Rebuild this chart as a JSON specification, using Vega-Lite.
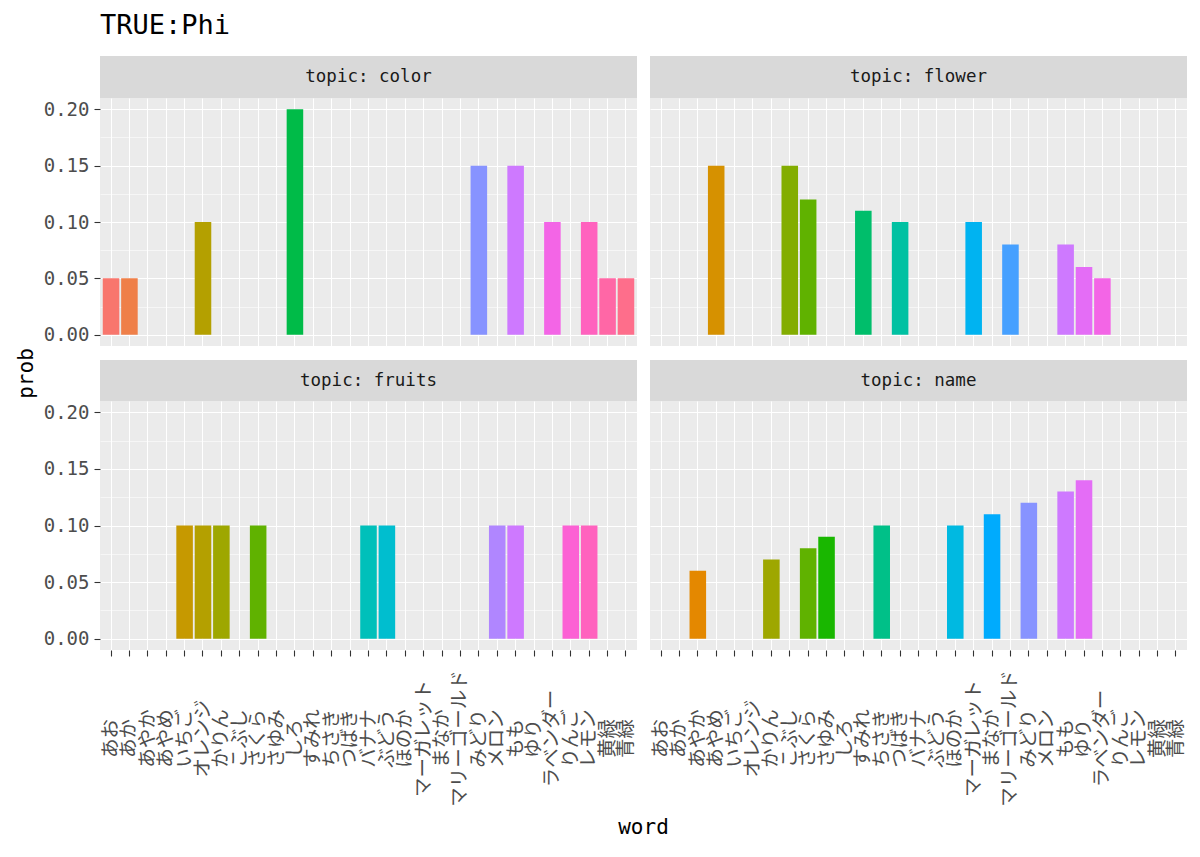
{
  "$schema": "https://vega.github.io/schema/vega-lite/v6.json",
  "background": "white",
  "padding": {"left": 15, "top": 12, "right": 13, "bottom": 10},
  "title": {"text": "TRUE:Phi", "anchor": "start", "frame": "group", "fontSize": 27, "font": "DejaVu Sans Mono", "fontWeight": "normal", "color": "#000000", "offset": 16},
  "datasets": {
    "phi": [
      {"topic": "color", "word": "あお", "prob": 0.05},
      {"topic": "color", "word": "あか", "prob": 0.05},
      {"topic": "color", "word": "オレンジ", "prob": 0.10},
      {"topic": "color", "word": "しろ", "prob": 0.20},
      {"topic": "color", "word": "みどり", "prob": 0.15},
      {"topic": "color", "word": "もも", "prob": 0.15},
      {"topic": "color", "word": "ラベンダー", "prob": 0.10},
      {"topic": "color", "word": "レモン", "prob": 0.10},
      {"topic": "color", "word": "黄緑", "prob": 0.05},
      {"topic": "color", "word": "青緑", "prob": 0.05},
      {"topic": "flower", "word": "あやめ", "prob": 0.15},
      {"topic": "flower", "word": "こぶし", "prob": 0.15},
      {"topic": "flower", "word": "さくら", "prob": 0.12},
      {"topic": "flower", "word": "すみれ", "prob": 0.11},
      {"topic": "flower", "word": "つばき", "prob": 0.10},
      {"topic": "flower", "word": "マーガレット", "prob": 0.10},
      {"topic": "flower", "word": "マリーゴールド", "prob": 0.08},
      {"topic": "flower", "word": "もも", "prob": 0.08},
      {"topic": "flower", "word": "ゆり", "prob": 0.06},
      {"topic": "flower", "word": "ラベンダー", "prob": 0.05},
      {"topic": "fruits", "word": "いちご", "prob": 0.10},
      {"topic": "fruits", "word": "オレンジ", "prob": 0.10},
      {"topic": "fruits", "word": "かりん", "prob": 0.10},
      {"topic": "fruits", "word": "さくら", "prob": 0.10},
      {"topic": "fruits", "word": "バナナ", "prob": 0.10},
      {"topic": "fruits", "word": "ぶどう", "prob": 0.10},
      {"topic": "fruits", "word": "メロン", "prob": 0.10},
      {"topic": "fruits", "word": "もも", "prob": 0.10},
      {"topic": "fruits", "word": "りんご", "prob": 0.10},
      {"topic": "fruits", "word": "レモン", "prob": 0.10},
      {"topic": "name", "word": "あやか", "prob": 0.06},
      {"topic": "name", "word": "かりん", "prob": 0.07},
      {"topic": "name", "word": "さくら", "prob": 0.08},
      {"topic": "name", "word": "さゆみ", "prob": 0.09},
      {"topic": "name", "word": "ちさき", "prob": 0.10},
      {"topic": "name", "word": "ほのか", "prob": 0.10},
      {"topic": "name", "word": "まなか", "prob": 0.11},
      {"topic": "name", "word": "みどり", "prob": 0.12},
      {"topic": "name", "word": "もも", "prob": 0.13},
      {"topic": "name", "word": "ゆり", "prob": 0.14}
    ]
  },
  "config": {
    "view": {"fill": "#EBEBEB", "stroke": null},
    "axis": {
      "domain": false,
      "gridColor": "#FFFFFF",
      "tickColor": "#333333",
      "tickSize": 6,
      "tickWidth": 1.1,
      "labelColor": "#4D4D4D",
      "labelFont": "DejaVu Sans Mono",
      "labelFontSize": 19,
      "titleFont": "DejaVu Sans Mono",
      "titleFontSize": 21,
      "titleFontWeight": "normal",
      "titleColor": "#000000"
    }
  },
  "bounds": "flush",
  "columns": 2,
  "spacing": {"row": 0, "column": 13},
  "concat": [
    {"width": 537, "height": 42, "data": {"values": [{"label": "topic: color"}]}, "mark": {"type": "text", "font": "DejaVu Sans Mono", "fontSize": 17.5, "color": "#1A1A1A"}, "encoding": {"text": {"field": "label"}}, "view": {"fill": "#D9D9D9", "stroke": null}},
    {"width": 537, "height": 42, "data": {"values": [{"label": "topic: flower"}]}, "mark": {"type": "text", "font": "DejaVu Sans Mono", "fontSize": 17.5, "color": "#1A1A1A"}, "encoding": {"text": {"field": "label"}}, "view": {"fill": "#D9D9D9", "stroke": null}},
    {
      "width": 537, "height": 248,
      "data": {"name": "phi"},
      "transform": [{"filter": "datum.topic === 'color'"}],
      "mark": {"type": "bar"},
      "encoding": {
        "x": {"field": "word", "type": "nominal",
          "sort": ["あお","あか","あやか","あやめ","いちご","オレンジ","かりん","こぶし","さくら","さゆみ","しろ","すみれ","ちさき","つばき","バナナ","ぶどう","ほのか","マーガレット","まなか","マリーゴールド","みどり","メロン","もも","ゆり","ラベンダー","りんご","レモン","黄緑","青緑"],
          "scale": {"domain": ["あお","あか","あやか","あやめ","いちご","オレンジ","かりん","こぶし","さくら","さゆみ","しろ","すみれ","ちさき","つばき","バナナ","ぶどう","ほのか","マーガレット","まなか","マリーゴールド","みどり","メロン","もも","ゆり","ラベンダー","りんご","レモン","黄緑","青緑"], "paddingInner": 0.1, "paddingOuter": 0.15},
          "axis": {"labels": false, "ticks": false, "title": null, "grid": true, "gridWidth": 1.1, "bandPosition": 0.5}},
        "y": {"field": "prob", "type": "quantitative", "scale": {"domain": [-0.01, 0.21], "nice": false, "zero": false},
          "axis": {"title": "prob", "titleY": 275, "titlePadding": 7, "labelPadding": 5,
            "values": [0, 0.025, 0.05, 0.075, 0.1, 0.125, 0.15, 0.175, 0.2],
            "labelExpr": "round(datum.value*1000)%50==0 ? format(datum.value,'.2f') : ''",
            "tickOpacity": {"condition": {"test": "round(datum.value*1000)%50!=0", "value": 0}, "value": 1},
            "gridWidth": {"condition": {"test": "round(datum.value*1000)%50!=0", "value": 0.55}, "value": 1.1}}},
        "y2": {"datum": 0},
        "color": {"field": "word", "type": "nominal",
          "scale": {"domain": ["あお","あか","あやか","あやめ","いちご","オレンジ","かりん","こぶし","さくら","さゆみ","しろ","すみれ","ちさき","つばき","バナナ","ぶどう","ほのか","マーガレット","まなか","マリーゴールド","みどり","メロン","もも","ゆり","ラベンダー","りんご","レモン","黄緑","青緑"],
            "range": ["#F8766D","#EF7F48","#E48800","#D69100","#C69900","#B4A000","#9EA700","#83AD00","#60B200","#19B700","#00BB48","#00BE6B","#00C088","#00C1A2","#00C0BA","#00BECF","#00B9E1","#00B3F1","#00ABFD","#46A0FF","#8793FF","#B086FF","#CE79FF","#E46DF6","#F365E6","#FC61D4","#FF62BE","#FF67A6","#FE6E8B"]},
          "legend": null}
      }
    },
    {
      "width": 537, "height": 248,
      "data": {"name": "phi"},
      "transform": [{"filter": "datum.topic === 'flower'"}],
      "mark": {"type": "bar"},
      "encoding": {
        "x": {"field": "word", "type": "nominal",
          "sort": ["あお","あか","あやか","あやめ","いちご","オレンジ","かりん","こぶし","さくら","さゆみ","しろ","すみれ","ちさき","つばき","バナナ","ぶどう","ほのか","マーガレット","まなか","マリーゴールド","みどり","メロン","もも","ゆり","ラベンダー","りんご","レモン","黄緑","青緑"],
          "scale": {"domain": ["あお","あか","あやか","あやめ","いちご","オレンジ","かりん","こぶし","さくら","さゆみ","しろ","すみれ","ちさき","つばき","バナナ","ぶどう","ほのか","マーガレット","まなか","マリーゴールド","みどり","メロン","もも","ゆり","ラベンダー","りんご","レモン","黄緑","青緑"], "paddingInner": 0.1, "paddingOuter": 0.15},
          "axis": {"labels": false, "ticks": false, "title": null, "grid": true, "gridWidth": 1.1, "bandPosition": 0.5}},
        "y": {"field": "prob", "type": "quantitative", "scale": {"domain": [-0.01, 0.21], "nice": false, "zero": false},
          "axis": {"title": null, "labels": false, "ticks": false,
            "values": [0, 0.025, 0.05, 0.075, 0.1, 0.125, 0.15, 0.175, 0.2],
            "gridWidth": {"condition": {"test": "round(datum.value*1000)%50!=0", "value": 0.55}, "value": 1.1}}},
        "y2": {"datum": 0},
        "color": {"field": "word", "type": "nominal",
          "scale": {"domain": ["あお","あか","あやか","あやめ","いちご","オレンジ","かりん","こぶし","さくら","さゆみ","しろ","すみれ","ちさき","つばき","バナナ","ぶどう","ほのか","マーガレット","まなか","マリーゴールド","みどり","メロン","もも","ゆり","ラベンダー","りんご","レモン","黄緑","青緑"],
            "range": ["#F8766D","#EF7F48","#E48800","#D69100","#C69900","#B4A000","#9EA700","#83AD00","#60B200","#19B700","#00BB48","#00BE6B","#00C088","#00C1A2","#00C0BA","#00BECF","#00B9E1","#00B3F1","#00ABFD","#46A0FF","#8793FF","#B086FF","#CE79FF","#E46DF6","#F365E6","#FC61D4","#FF62BE","#FF67A6","#FE6E8B"]},
          "legend": null}
      }
    },
    {"width": 537, "height": 14, "data": {"values": [{"label": ""}]}, "mark": {"type": "text"}, "encoding": {"text": {"field": "label"}}, "view": {"fill": null, "stroke": null}},
    {"width": 537, "height": 14, "data": {"values": [{"label": ""}]}, "mark": {"type": "text"}, "encoding": {"text": {"field": "label"}}, "view": {"fill": null, "stroke": null}},
    {"width": 537, "height": 41, "data": {"values": [{"label": "topic: fruits"}]}, "mark": {"type": "text", "font": "DejaVu Sans Mono", "fontSize": 17.5, "color": "#1A1A1A"}, "encoding": {"text": {"field": "label"}}, "view": {"fill": "#D9D9D9", "stroke": null}},
    {"width": 537, "height": 41, "data": {"values": [{"label": "topic: name"}]}, "mark": {"type": "text", "font": "DejaVu Sans Mono", "fontSize": 17.5, "color": "#1A1A1A"}, "encoding": {"text": {"field": "label"}}, "view": {"fill": "#D9D9D9", "stroke": null}},
    {
      "width": 537, "height": 249,
      "data": {"name": "phi"},
      "transform": [{"filter": "datum.topic === 'fruits'"}],
      "mark": {"type": "bar"},
      "encoding": {
        "x": {"field": "word", "type": "nominal",
          "sort": ["あお","あか","あやか","あやめ","いちご","オレンジ","かりん","こぶし","さくら","さゆみ","しろ","すみれ","ちさき","つばき","バナナ","ぶどう","ほのか","マーガレット","まなか","マリーゴールド","みどり","メロン","もも","ゆり","ラベンダー","りんご","レモン","黄緑","青緑"],
          "scale": {"domain": ["あお","あか","あやか","あやめ","いちご","オレンジ","かりん","こぶし","さくら","さゆみ","しろ","すみれ","ちさき","つばき","バナナ","ぶどう","ほのか","マーガレット","まなか","マリーゴールド","みどり","メロン","もも","ゆり","ラベンダー","りんご","レモン","黄緑","青緑"], "paddingInner": 0.1, "paddingOuter": 0.15},
          "axis": {"title": "word", "titleX": 543, "titlePadding": 10, "grid": true, "gridWidth": 1.1, "bandPosition": 0.5,
            "labelAngle": 270, "labelAlign": "center", "labelBaseline": "middle", "labelPadding": 82,
            "labelFont": "Noto Sans CJK JP", "labelFontSize": 19.5, "labelOverlap": false, "labelFlush": false}},
        "y": {"field": "prob", "type": "quantitative", "scale": {"domain": [-0.01, 0.21], "nice": false, "zero": false},
          "axis": {"title": null, "labelPadding": 5,
            "values": [0, 0.025, 0.05, 0.075, 0.1, 0.125, 0.15, 0.175, 0.2],
            "labelExpr": "round(datum.value*1000)%50==0 ? format(datum.value,'.2f') : ''",
            "tickOpacity": {"condition": {"test": "round(datum.value*1000)%50!=0", "value": 0}, "value": 1},
            "gridWidth": {"condition": {"test": "round(datum.value*1000)%50!=0", "value": 0.55}, "value": 1.1}}},
        "y2": {"datum": 0},
        "color": {"field": "word", "type": "nominal",
          "scale": {"domain": ["あお","あか","あやか","あやめ","いちご","オレンジ","かりん","こぶし","さくら","さゆみ","しろ","すみれ","ちさき","つばき","バナナ","ぶどう","ほのか","マーガレット","まなか","マリーゴールド","みどり","メロン","もも","ゆり","ラベンダー","りんご","レモン","黄緑","青緑"],
            "range": ["#F8766D","#EF7F48","#E48800","#D69100","#C69900","#B4A000","#9EA700","#83AD00","#60B200","#19B700","#00BB48","#00BE6B","#00C088","#00C1A2","#00C0BA","#00BECF","#00B9E1","#00B3F1","#00ABFD","#46A0FF","#8793FF","#B086FF","#CE79FF","#E46DF6","#F365E6","#FC61D4","#FF62BE","#FF67A6","#FE6E8B"]},
          "legend": null}
      }
    },
    {
      "width": 537, "height": 249,
      "data": {"name": "phi"},
      "transform": [{"filter": "datum.topic === 'name'"}],
      "mark": {"type": "bar"},
      "encoding": {
        "x": {"field": "word", "type": "nominal",
          "sort": ["あお","あか","あやか","あやめ","いちご","オレンジ","かりん","こぶし","さくら","さゆみ","しろ","すみれ","ちさき","つばき","バナナ","ぶどう","ほのか","マーガレット","まなか","マリーゴールド","みどり","メロン","もも","ゆり","ラベンダー","りんご","レモン","黄緑","青緑"],
          "scale": {"domain": ["あお","あか","あやか","あやめ","いちご","オレンジ","かりん","こぶし","さくら","さゆみ","しろ","すみれ","ちさき","つばき","バナナ","ぶどう","ほのか","マーガレット","まなか","マリーゴールド","みどり","メロン","もも","ゆり","ラベンダー","りんご","レモン","黄緑","青緑"], "paddingInner": 0.1, "paddingOuter": 0.15},
          "axis": {"title": null, "grid": true, "gridWidth": 1.1, "bandPosition": 0.5,
            "labelAngle": 270, "labelAlign": "center", "labelBaseline": "middle", "labelPadding": 82,
            "labelFont": "Noto Sans CJK JP", "labelFontSize": 19.5, "labelOverlap": false, "labelFlush": false}},
        "y": {"field": "prob", "type": "quantitative", "scale": {"domain": [-0.01, 0.21], "nice": false, "zero": false},
          "axis": {"title": null, "labels": false, "ticks": false,
            "values": [0, 0.025, 0.05, 0.075, 0.1, 0.125, 0.15, 0.175, 0.2],
            "gridWidth": {"condition": {"test": "round(datum.value*1000)%50!=0", "value": 0.55}, "value": 1.1}}},
        "y2": {"datum": 0},
        "color": {"field": "word", "type": "nominal",
          "scale": {"domain": ["あお","あか","あやか","あやめ","いちご","オレンジ","かりん","こぶし","さくら","さゆみ","しろ","すみれ","ちさき","つばき","バナナ","ぶどう","ほのか","マーガレット","まなか","マリーゴールド","みどり","メロン","もも","ゆり","ラベンダー","りんご","レモン","黄緑","青緑"],
            "range": ["#F8766D","#EF7F48","#E48800","#D69100","#C69900","#B4A000","#9EA700","#83AD00","#60B200","#19B700","#00BB48","#00BE6B","#00C088","#00C1A2","#00C0BA","#00BECF","#00B9E1","#00B3F1","#00ABFD","#46A0FF","#8793FF","#B086FF","#CE79FF","#E46DF6","#F365E6","#FC61D4","#FF62BE","#FF67A6","#FE6E8B"]},
          "legend": null}
      }
    }
  ]
}
